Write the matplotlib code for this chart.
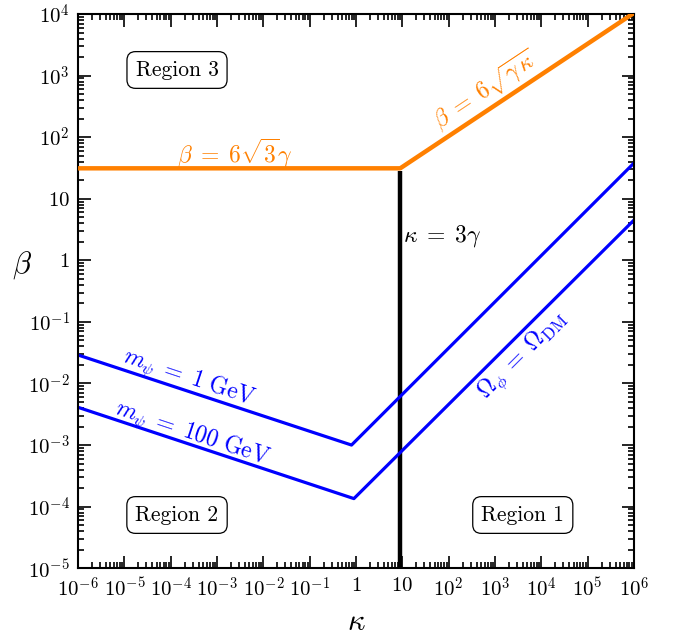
import matplotlib
matplotlib.use("Agg")
import matplotlib.pyplot as plt
from matplotlib.ticker import LogLocator, FuncFormatter, NullFormatter
import numpy as np

plt.rcParams['mathtext.fontset'] = 'cm'
plt.rcParams['font.family'] = 'serif'
plt.rcParams['font.serif'] = ['cmr10']
plt.rcParams['axes.formatter.use_mathtext'] = True

# kink points of each curve (kappa, beta)
orange_k = [1e-6, 9.0, 1e6]
orange_b = [31.2, 31.2, 10392.0]
vert_k = [9.0, 9.0]
vert_b = [1e-5, 28.0]
m1_k = [1e-6, 0.8, 1e6]
m1_b = [0.029, 1.0e-3, 38.0]
m100_k = [1e-6, 0.9, 1e6]
m100_b = [4.1e-3, 1.35e-4, 4.5]

orange = '#ff8000'
blue = '#0000ff'

fig = plt.figure(figsize=(6.73, 6.37), dpi=100)
ax = fig.add_axes([0.116, 0.108, 0.826, 0.870])

ax.plot(orange_k, orange_b, color=orange, lw=3.2, solid_capstyle='butt', zorder=3)
ax.plot(vert_k, vert_b, color='black', lw=3.2, solid_capstyle='butt', zorder=2)
ax.plot(m1_k, m1_b, color=blue, lw=2.3, zorder=2)
ax.plot(m100_k, m100_b, color=blue, lw=2.3, zorder=2)

ax.set_xscale('log')
ax.set_yscale('log')
ax.set_xlim(1e-6, 1e6)
ax.set_ylim(1e-5, 1e4)

def fmt(v, pos):
    e = int(round(np.log10(v)))
    if e == 0:
        return r'$1$'
    if e == 1:
        return r'$10$'
    return r'$10^{%d}$' % e

ax.xaxis.set_major_locator(LogLocator(base=10, numticks=20))
ax.yaxis.set_major_locator(LogLocator(base=10, numticks=20))
ax.xaxis.set_minor_locator(LogLocator(base=10, subs=np.arange(2, 10), numticks=20))
ax.yaxis.set_minor_locator(LogLocator(base=10, subs=np.arange(2, 10), numticks=20))
ax.xaxis.set_major_formatter(FuncFormatter(fmt))
ax.yaxis.set_major_formatter(FuncFormatter(fmt))
ax.xaxis.set_minor_formatter(NullFormatter())
ax.yaxis.set_minor_formatter(NullFormatter())
ax.tick_params(which='both', direction='in', top=True, right=True, labelsize=15, width=1.2)
ax.tick_params(which='major', length=9, pad=6)
ax.tick_params(which='minor', length=4.5)
for s in ax.spines.values():
    s.set_linewidth(1.5)

ax.set_xlabel(r'$\kappa$', fontsize=22, va='center')
ax.set_ylabel(r'$\beta$', fontsize=22, rotation=0, va='center', ha='center')
ax.xaxis.set_label_coords(0.5, -0.097)
ax.yaxis.set_label_coords(-0.1, 0.547)

box = dict(boxstyle='round,pad=0.4', fc='white', ec='black', lw=0.9)
ax.text(0.178, 0.899, 'Region 3', transform=ax.transAxes, ha='center', va='center', fontsize=15.5, bbox=box)
ax.text(0.178, 0.096, 'Region 2', transform=ax.transAxes, ha='center', va='center', fontsize=15.5, bbox=box)
ax.text(0.80, 0.096, 'Region 1', transform=ax.transAxes, ha='center', va='center', fontsize=15.5, bbox=box)

ax.text(0.283, 0.748, r'$\beta\;=\;6\sqrt{3}\gamma$', transform=ax.transAxes, ha='center', va='center',
        fontsize=17, color=orange)
ax.text(0.733, 0.862, r'$\beta\;=\;6\sqrt{\gamma\,\kappa}$', transform=ax.transAxes, ha='center', va='center',
        fontsize=17, color=orange, rotation=33.6)
ax.text(0.655, 0.6, r'$\kappa\;=\;3\gamma$', transform=ax.transAxes, ha='center', va='center',
        fontsize=17, color='black')
ax.text(0.2, 0.343, r'$m_\psi\;=\;1\ \mathrm{GeV}$', transform=ax.transAxes, ha='center', va='center',
        fontsize=17, color=blue, rotation=-18.4)
ax.text(0.205, 0.243, r'$m_\psi\;=\;100\ \mathrm{GeV}$', transform=ax.transAxes, ha='center', va='center',
        fontsize=17, color=blue, rotation=-18.4)
ax.text(0.8, 0.385, r'$\Omega_\phi\;=\;\Omega_{\rm DM}$', transform=ax.transAxes, ha='center', va='center',
        fontsize=17, color=blue, rotation=45)

fig.savefig('out.png', dpi=100)
